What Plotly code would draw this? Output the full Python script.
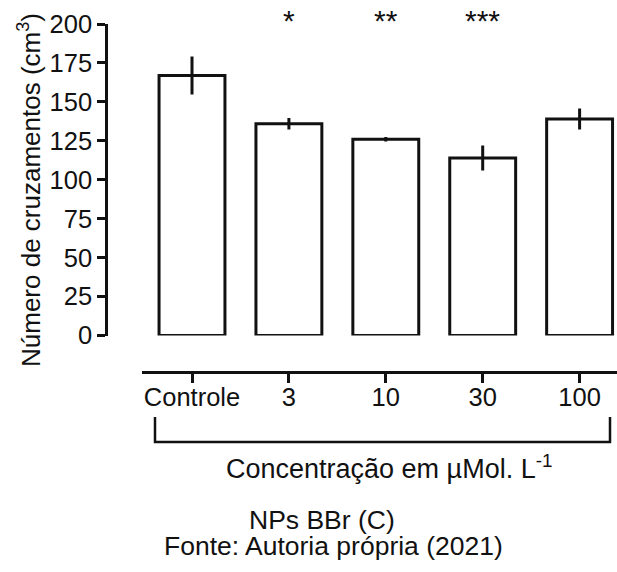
import plotly.graph_objects as go

# Data: number of crossings per concentration group
categories = ["Controle", "3", "10", "30", "100"]
means = [167.0, 136.0, 126.0, 114.0, 139.0]
errors = [12.2, 3.7, 1.5, 8.0, 6.7]
stars = ["", "*", "**", "***", ""]
y_ticks = [0, 25, 50, 75, 100, 125, 150, 175, 200]

W, H = 617, 572
FONT = "Liberation Sans, Arial, sans-serif"
INK = "#111111"


def px_x(p):
    return p / W


def px_y(p):
    return 1 - p / H


# plot geometry (pixels)
y_axis_x = 108
y0_px, y200_px = 335.5, 24
cat0_px, cat_step = 192, 96.9
xr_left = (y_axis_x - cat0_px) / cat_step
xr_right = (W - cat0_px) / cat_step

fig = go.Figure()
fig.add_trace(go.Bar(
    x=list(range(len(categories))),
    y=means,
    width=0.68,
    marker=dict(color="white", line=dict(color=INK, width=3)),
    error_y=dict(type="data", array=errors, visible=True,
                 color=INK, thickness=3, width=0),
    showlegend=False,
))
# empty helper trace so the offset category axis gets drawn
fig.add_trace(go.Scatter(x=[0], y=[0], xaxis="x2", yaxis="y2",
                         mode="markers", marker=dict(opacity=0),
                         hoverinfo="skip", showlegend=False))

# significance marks above bars
for i, s in enumerate(stars):
    if s:
        fig.add_annotation(x=i, xref="x", y=px_y(20), yref="paper",
                           xanchor="center", yanchor="middle",
                           text=s, showarrow=False,
                           font=dict(family=FONT, size=30, color=INK))

# bracket under the category labels
fig.add_shape(type="path", xref="paper", yref="paper",
              path=f"M {px_x(155)} {px_y(417)} L {px_x(155)} {px_y(442)} "
                   f"L {px_x(610)} {px_y(442)} L {px_x(610)} {px_y(417)}",
              line=dict(color=INK, width=2.5))

captions = [
    ("Número de cruzamentos (cm<sup>3</sup>)", 29, 190, 26, -90),
    ("Concentração em µMol. L<sup>-1</sup>", 389, 467, 27, 0),
    ("NPs BBr (C)", 322, 520, 26.5, 0),
    ("Fonte: Autoria própria (2021)", 333, 546, 26.5, 0),
]
for text, cx, cy, size, angle in captions:
    fig.add_annotation(x=px_x(cx), y=px_y(cy), xref="paper", yref="paper",
                       xanchor="center", yanchor="middle",
                       text=text, textangle=angle, showarrow=False,
                       font=dict(family=FONT, size=size, color=INK))

fig.update_layout(
    template="none",
    width=W, height=H,
    margin=dict(l=0, r=0, t=0, b=0, pad=0, autoexpand=False),
    paper_bgcolor="white", plot_bgcolor="white",
    font=dict(family=FONT, size=25, color=INK),
    xaxis=dict(domain=[px_x(y_axis_x), 1], range=[xr_left, xr_right],
               visible=False, fixedrange=True, automargin=False),
    yaxis=dict(domain=[px_y(y0_px), px_y(y200_px)], range=[0, 200],
               tickvals=y_ticks, ticks="outside", ticklen=8, tickwidth=2.5,
               tickcolor=INK, showline=True, linewidth=2.5, linecolor=INK,
               showgrid=False, zeroline=False, tickfont=dict(size=25.5),
               automargin=False, fixedrange=True),
    xaxis2=dict(domain=[px_x(142), 1], anchor="free", position=px_y(372),
                range=[(142 - cat0_px) / cat_step, xr_right],
                tickvals=list(range(len(categories))), ticktext=categories,
                ticks="outside", ticklen=9, tickwidth=2.5, tickcolor=INK,
                ticklabelstandoff=-7,
                showline=True, linewidth=2.5, linecolor=INK,
                showgrid=False, zeroline=False, tickfont=dict(size=25.5),
                automargin=False, fixedrange=True),
    yaxis2=dict(domain=[0, px_y(372)], range=[0, 1], visible=False,
                anchor="x2", fixedrange=True, automargin=False),
)

fig.write_html("out.html", config={"displayModeBar": False})
